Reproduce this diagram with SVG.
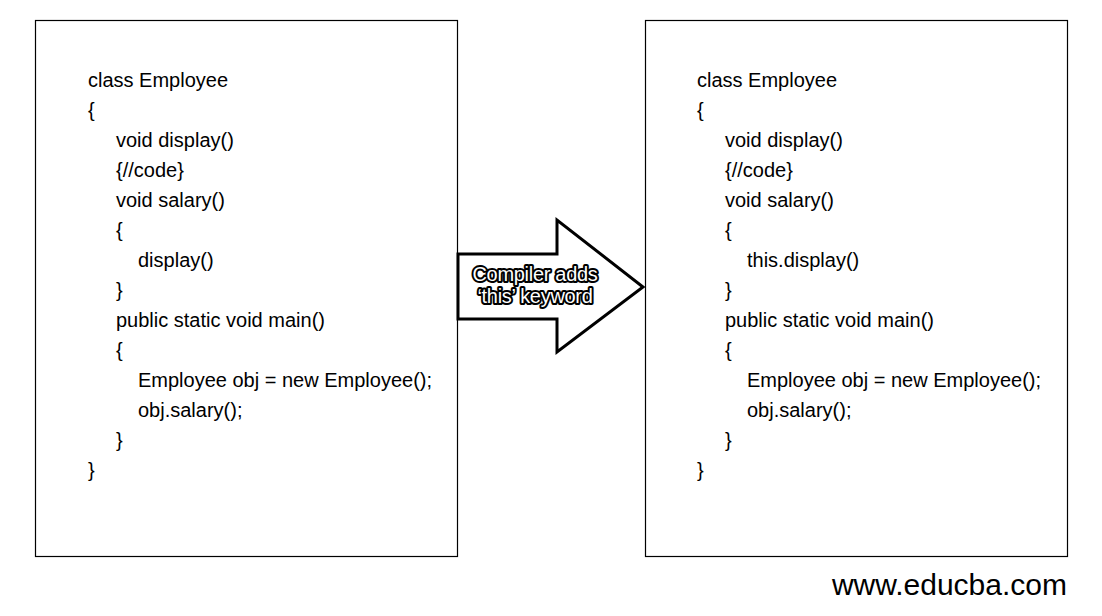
<svg xmlns="http://www.w3.org/2000/svg" width="1102" height="616" viewBox="0 0 1102 616">
<style>
.box{fill:#fff;stroke:#000;stroke-width:1.2}
.code{font-family:"Liberation Sans",Arial,sans-serif;font-size:20px;fill:#000}
.lbl{font-family:"Liberation Sans",Arial,sans-serif;font-size:20px;fill:#fff;stroke:#000;stroke-width:4;stroke-linejoin:round;paint-order:stroke;text-anchor:middle;letter-spacing:-0.3px}
.wm{font-family:"Liberation Sans",Arial,sans-serif;font-size:30px;fill:#000;text-anchor:end}
</style>
<rect width="1102" height="616" fill="#fff"/>
<g id="left">
<rect class="box" x="35.5" y="20.5" width="422" height="536"/>
<text class="code">
<tspan x="88" y="87">class Employee</tspan>
<tspan x="88" y="117">{</tspan>
<tspan x="116" y="147">void display()</tspan>
<tspan x="116" y="177">{//code}</tspan>
<tspan x="116" y="207">void salary()</tspan>
<tspan x="116" y="237">{</tspan>
<tspan x="138" y="267">display()</tspan>
<tspan x="116" y="297">}</tspan>
<tspan x="116" y="327">public static void main()</tspan>
<tspan x="116" y="357">{</tspan>
<tspan x="138" y="387">Employee obj = new Employee();</tspan>
<tspan x="138" y="417">obj.salary();</tspan>
<tspan x="116" y="447">}</tspan>
<tspan x="88" y="477">}</tspan>
</text>
</g>
<g id="right">
<rect class="box" x="645.5" y="20.5" width="422" height="536"/>
<text class="code">
<tspan x="697" y="87">class Employee</tspan>
<tspan x="697" y="117">{</tspan>
<tspan x="725" y="147">void display()</tspan>
<tspan x="725" y="177">{//code}</tspan>
<tspan x="725" y="207">void salary()</tspan>
<tspan x="725" y="237">{</tspan>
<tspan x="747" y="267">this.display()</tspan>
<tspan x="725" y="297">}</tspan>
<tspan x="725" y="327">public static void main()</tspan>
<tspan x="725" y="357">{</tspan>
<tspan x="747" y="387">Employee obj = new Employee();</tspan>
<tspan x="747" y="417">obj.salary();</tspan>
<tspan x="725" y="447">}</tspan>
<tspan x="697" y="477">}</tspan>
</text>
</g>
<g id="connectors">
<g id="arrow">
<polygon points="458,254 557,254 557,220 643,287 557,352 557,319 458,319" fill="#fff" stroke="#000" stroke-width="3" stroke-linejoin="miter"/>
<text class="lbl" x="535" y="281">Compiler adds</text>
<text class="lbl" x="535" y="303">‘this’ keyword</text>
</g>
</g>
<text class="wm" x="1067" y="595">www.educba.com</text>
</svg>
